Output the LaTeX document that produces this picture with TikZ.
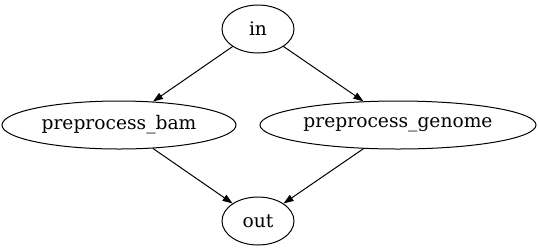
\documentclass[tikz,border=0pt]{standalone}
\usepackage{fontspec}
\setmainfont{DejaVu Serif}
\usetikzlibrary{shapes.geometric,arrows.meta}

\begin{document}
\begin{tikzpicture}[x=0.75pt,y=-0.75pt]
      \tikzstyle{every node}+=[inner sep=0pt]
      \tikzstyle{task}=[draw, ellipse, line width=0.75pt, minimum height=36pt, font=\fontsize{14pt}{16pt}\selectfont]
      \tikzstyle{flow}=[line width=0.75pt, -{Triangle[length=7.5pt,width=5.25pt]}]
      \useasboundingbox (0,0) rectangle (539,251);
      \node [task, minimum width=54pt] (in) at (258,29) {in};
      \node [task, minimum width=175.5pt] (bam) at (119,125) {preprocess\_bam};
      \node [task, minimum width=207pt] (genome) at (398,125) {preprocess\_genome};
      \node [task, minimum width=54pt] (out) at (258,221) {out};
      \draw [flow] (in) -- (bam);
      \draw [flow] (in) -- (genome);
      \draw [flow] (bam) -- (out);
      \draw [flow] (genome) -- (out);
    \end{tikzpicture}
\end{document}
